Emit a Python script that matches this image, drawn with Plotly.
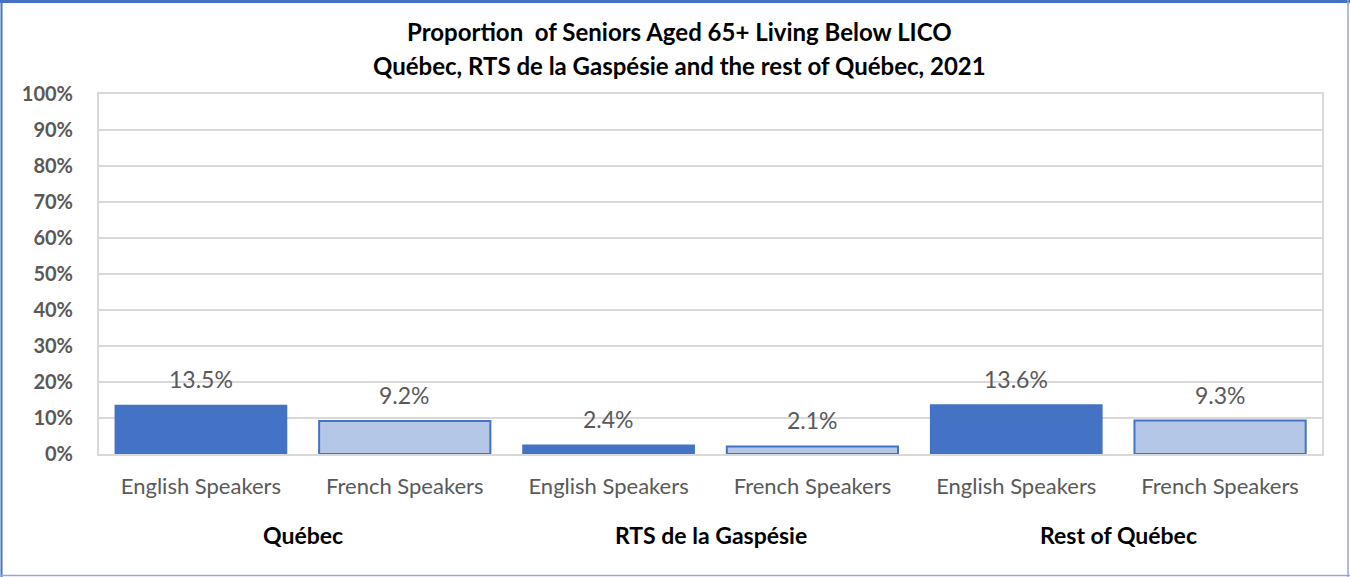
import plotly.graph_objects as go

# values (percent)
regions = ["Québec", "RTS de la Gaspésie", "Rest of Québec"]
speakers = ["English Speakers", "French Speakers"]
english_vals = [13.5, 2.4, 13.6]
french_vals = [9.2, 2.1, 9.3]
y_ticks = [0, 10, 20, 30, 40, 50, 60, 70, 80, 90, 100]
title_lines = ["Proportion  of Seniors Aged 65+ Living Below LICO",
               "Québec, RTS de la Gaspésie and the rest of Québec, 2021"]

W, H = 1350, 577
ml, mr, mt, mb = 99, 28, 94, 123
pw, ph = W - ml - mr, H - mt - mb

def px_x(p):
    return (p - ml) / pw

def px_y(p):
    return (H - mb - p) / ph

eng_x = [2 * i for i in range(len(regions))]
fr_x = [2 * i + 1 for i in range(len(regions))]

fig = go.Figure()
fig.add_trace(go.Bar(x=eng_x, y=english_vals, width=0.84,
                     marker=dict(color="#4472C4", line=dict(color="#4472C4", width=1.5)),
                     name=speakers[0]))
fig.add_trace(go.Bar(x=fr_x, y=french_vals, width=0.84,
                     marker=dict(color="#B4C7E7", line=dict(color="#4472C4", width=2)),
                     name=speakers[1]))

# data labels above bars
for xs, vals in [(eng_x, english_vals), (fr_x, french_vals)]:
    for x, v in zip(xs, vals):
        fig.add_annotation(x=x, y=v, text=f"{v:.1f}%", showarrow=False,
                           yanchor="bottom", yshift=10,
                           font=dict(family="Lato", size=23, color="#595959"))

# region labels under the category labels
for i, r in enumerate(regions):
    fig.add_annotation(x=2 * i + 0.5, y=px_y(535), yref="paper", text="<b>" + r + "</b>",
                       showarrow=False, yanchor="middle",
                       font=dict(family="Lato", size=23, color="#000000"))

# two-line title
for py, line in zip([32, 65], title_lines):
    fig.add_annotation(x=px_x(679), y=px_y(py), xref="paper", yref="paper",
                       text="<b>" + line + "</b>", showarrow=False,
                       xanchor="center", yanchor="middle",
                       font=dict(family="Lato", size=24, color="#000000"))

# outer frame of the chart
fig.add_shape(type="line", xref="paper", yref="paper", x0=px_x(0), x1=px_x(1350),
              y0=px_y(1.5), y1=px_y(1.5), line=dict(color="#4472C4", width=3))
fig.add_shape(type="line", xref="paper", yref="paper", x0=px_x(1.5), x1=px_x(1.5),
              y0=px_y(0), y1=px_y(577), line=dict(color="#4472C4", width=2))
fig.add_shape(type="line", xref="paper", yref="paper", x0=px_x(1348), x1=px_x(1348),
              y0=px_y(0), y1=px_y(577), line=dict(color="#8EA9DB", width=1.5))
fig.add_shape(type="line", xref="paper", yref="paper", x0=px_x(0), x1=px_x(1350),
              y0=px_y(575.5), y1=px_y(575.5), line=dict(color="#8EA9DB", width=1.5))

fig.update_layout(
    width=W, height=H,
    margin=dict(l=ml, r=mr, t=mt, b=mb),
    paper_bgcolor="white", plot_bgcolor="white",
    barmode="overlay", showlegend=False,
    xaxis=dict(range=[-0.5, 5.5], tickvals=eng_x + fr_x,
               ticktext=[speakers[0]] * 3 + [speakers[1]] * 3,
               tickfont=dict(family="Lato", size=22, color="#595959"),
               showgrid=False, zeroline=False, showline=True, linecolor="#D9D9D9",
               linewidth=2, mirror=True, ticks="", ticklabelstandoff=12),
    yaxis=dict(range=[0, 100], tickvals=y_ticks,
               ticktext=[f"<b>{t}%</b>" for t in y_ticks],
               tickfont=dict(family="Lato", size=20, color="#595959"),
               showgrid=True, gridcolor="#D9D9D9", gridwidth=1.5,
               zeroline=False, showline=True, linecolor="#D9D9D9", linewidth=2,
               mirror=True, ticks="", ticklabelstandoff=20),
)

fig.write_html("out.html", config={"displayModeBar": False},
               post_script="document.body.style.margin='0';")
